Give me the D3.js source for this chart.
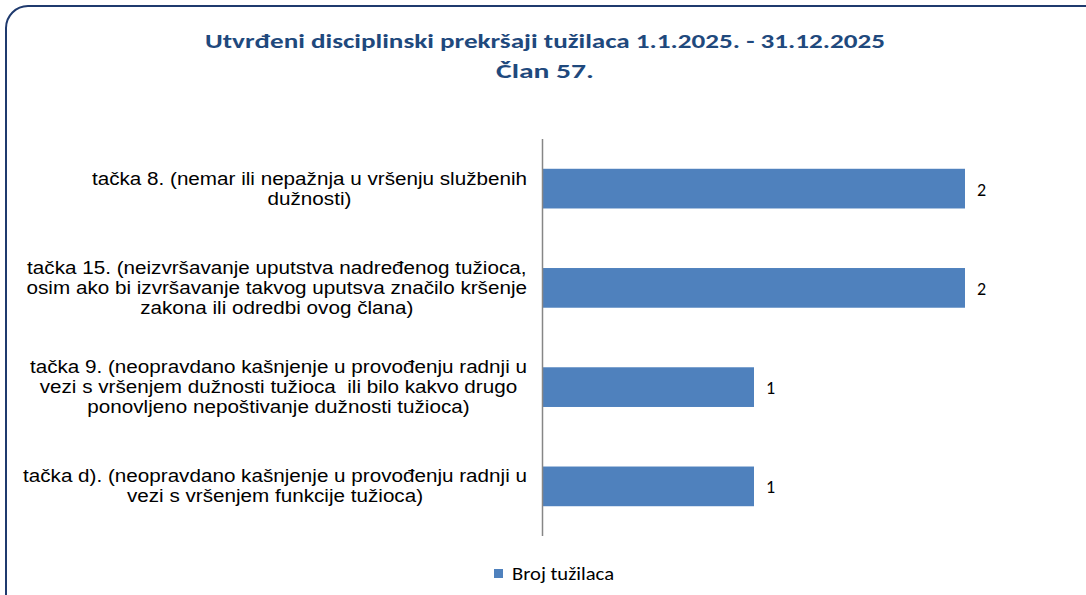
<!DOCTYPE html>
<html>
<head>
<meta charset="utf-8">
<script src="https://cdn.jsdelivr.net/npm/d3@7"></script>
<style>
    body { margin: 0; background: #fff; }
    svg { display: block; }
</style>
</head>
<body>
<div id="chart"></div>
<script>
// Chart data
const categories = [
    ["tačka 8. (nemar ili nepažnja u vršenju službenih", "dužnosti)"],
    ["tačka 15. (neizvršavanje uputstva nadređenog tužioca,", "osim ako bi izvršavanje takvog uputsva značilo kršenje", "zakona ili odredbi ovog člana)"],
    ["tačka 9. (neopravdano kašnjenje u provođenju radnji u", "vezi s vršenjem dužnosti tužioca  ili bilo kakvo drugo", "ponovljeno nepoštivanje dužnosti tužioca)"],
    ["tačka d). (neopravdano kašnjenje u provođenju radnji u", "vezi s vršenjem funkcije tužioca)"]
];
const values = [2, 2, 1, 1];
const seriesName = "Broj tužilaca";
const titleLines = ["Utvrđeni disciplinski prekršaji tužilaca 1.1.2025. - 31.12.2025", "Član 57."];

const width = 1086, height = 595;
const barColor = "#4f81bd";
const titleColor = "#1f497d";
const calibri = "Carlito, 'Liberation Sans Narrow', 'Open Sans', sans-serif";

const svg = d3.select("#chart").append("svg")
    .attr("width", width)
    .attr("height", height);

// Outer rounded border (runs off the right and bottom edge)
svg.append("rect")
    .attr("x", 6).attr("y", 6)
    .attr("width", 1110).attr("height", 640)
    .attr("rx", 22)
    .attr("fill", "#fff")
    .attr("stroke", "#1f3a6e")
    .attr("stroke-width", 2);

// Title
svg.selectAll(".title")
    .data(titleLines)
    .enter()
    .append("text")
    .attr("class", "title")
    .attr("x", 545)
    .attr("y", (d, i) => 48 + i * 30)
    .attr("text-anchor", "middle")
    .attr("font-family", calibri)
    .attr("font-weight", "bold")
    .attr("font-size", 21)
    .attr("fill", titleColor)
    .attr("textLength", (d, i) => i === 0 ? 680 : 98)
    .attr("lengthAdjust", "spacingAndGlyphs")
    .text(d => d);

// Scales
const x = d3.scaleLinear().domain([0, 2]).range([543, 965]);
const y = d3.scaleBand()
    .domain(d3.range(categories.length))
    .range([139, 536])
    .paddingInner(0.6)
    .paddingOuter(0.3);

// Bars
svg.selectAll(".bar")
    .data(values)
    .enter()
    .append("rect")
    .attr("class", "bar")
    .attr("x", x(0))
    .attr("y", (d, i) => y(i))
    .attr("width", d => x(d) - x(0))
    .attr("height", y.bandwidth())
    .attr("fill", barColor);

// Vertical category axis line
svg.append("line")
    .attr("x1", 542.5).attr("x2", 542.5)
    .attr("y1", 139).attr("y2", 536)
    .attr("stroke", "#868686")
    .attr("stroke-width", 1.5);

// Value labels
svg.selectAll(".valueLabel")
    .data(values)
    .enter()
    .append("text")
    .attr("class", "valueLabel")
    .attr("x", d => x(d) + 12)
    .attr("y", (d, i) => y(i) + y.bandwidth() / 2 + 7)
    .attr("font-family", calibri)
    .attr("font-size", 18)
    .attr("fill", "#000")
    .text(d => d);

// Category labels: centered multi-line blocks, right-aligned against the axis
// (the original text is drawn a bit wider than plain Arial, so stretch it)
const labelRight = 527;
const lineHeight = 20;
const stretch = 1.18;
categories.forEach((lines, i) => {
    const g = svg.append("g").attr("class", "catLabel");
    const cy = y(i) + y.bandwidth() / 2;
    const texts = g.selectAll("text")
        .data(lines)
        .enter()
        .append("text")
        .attr("y", (d, j) => cy + (j - (lines.length - 1) / 2) * lineHeight + 6)
        .attr("text-anchor", "middle")
        .attr("font-family", "'Liberation Sans', Arial, sans-serif")
        .attr("font-size", 17.5)
        .attr("fill", "#000")
        .style("white-space", "pre")
        .text(d => d);
    let maxW = 0;
    texts.each(function() {
        const w = this.getComputedTextLength() * stretch;
        d3.select(this).attr("textLength", w).attr("lengthAdjust", "spacingAndGlyphs");
        maxW = Math.max(maxW, w);
    });
    texts.attr("x", labelRight - maxW / 2);
});

// Legend
const legend = svg.append("g").attr("transform", "translate(494, 569)");
legend.append("rect")
    .attr("width", 9).attr("height", 9)
    .attr("fill", barColor);
legend.append("text")
    .attr("x", 18).attr("y", 11)
    .attr("font-family", calibri)
    .attr("font-size", 18)
    .attr("fill", "#000")
    .attr("textLength", 102)
    .attr("lengthAdjust", "spacingAndGlyphs")
    .text(seriesName);
</script>
</body>
</html>
